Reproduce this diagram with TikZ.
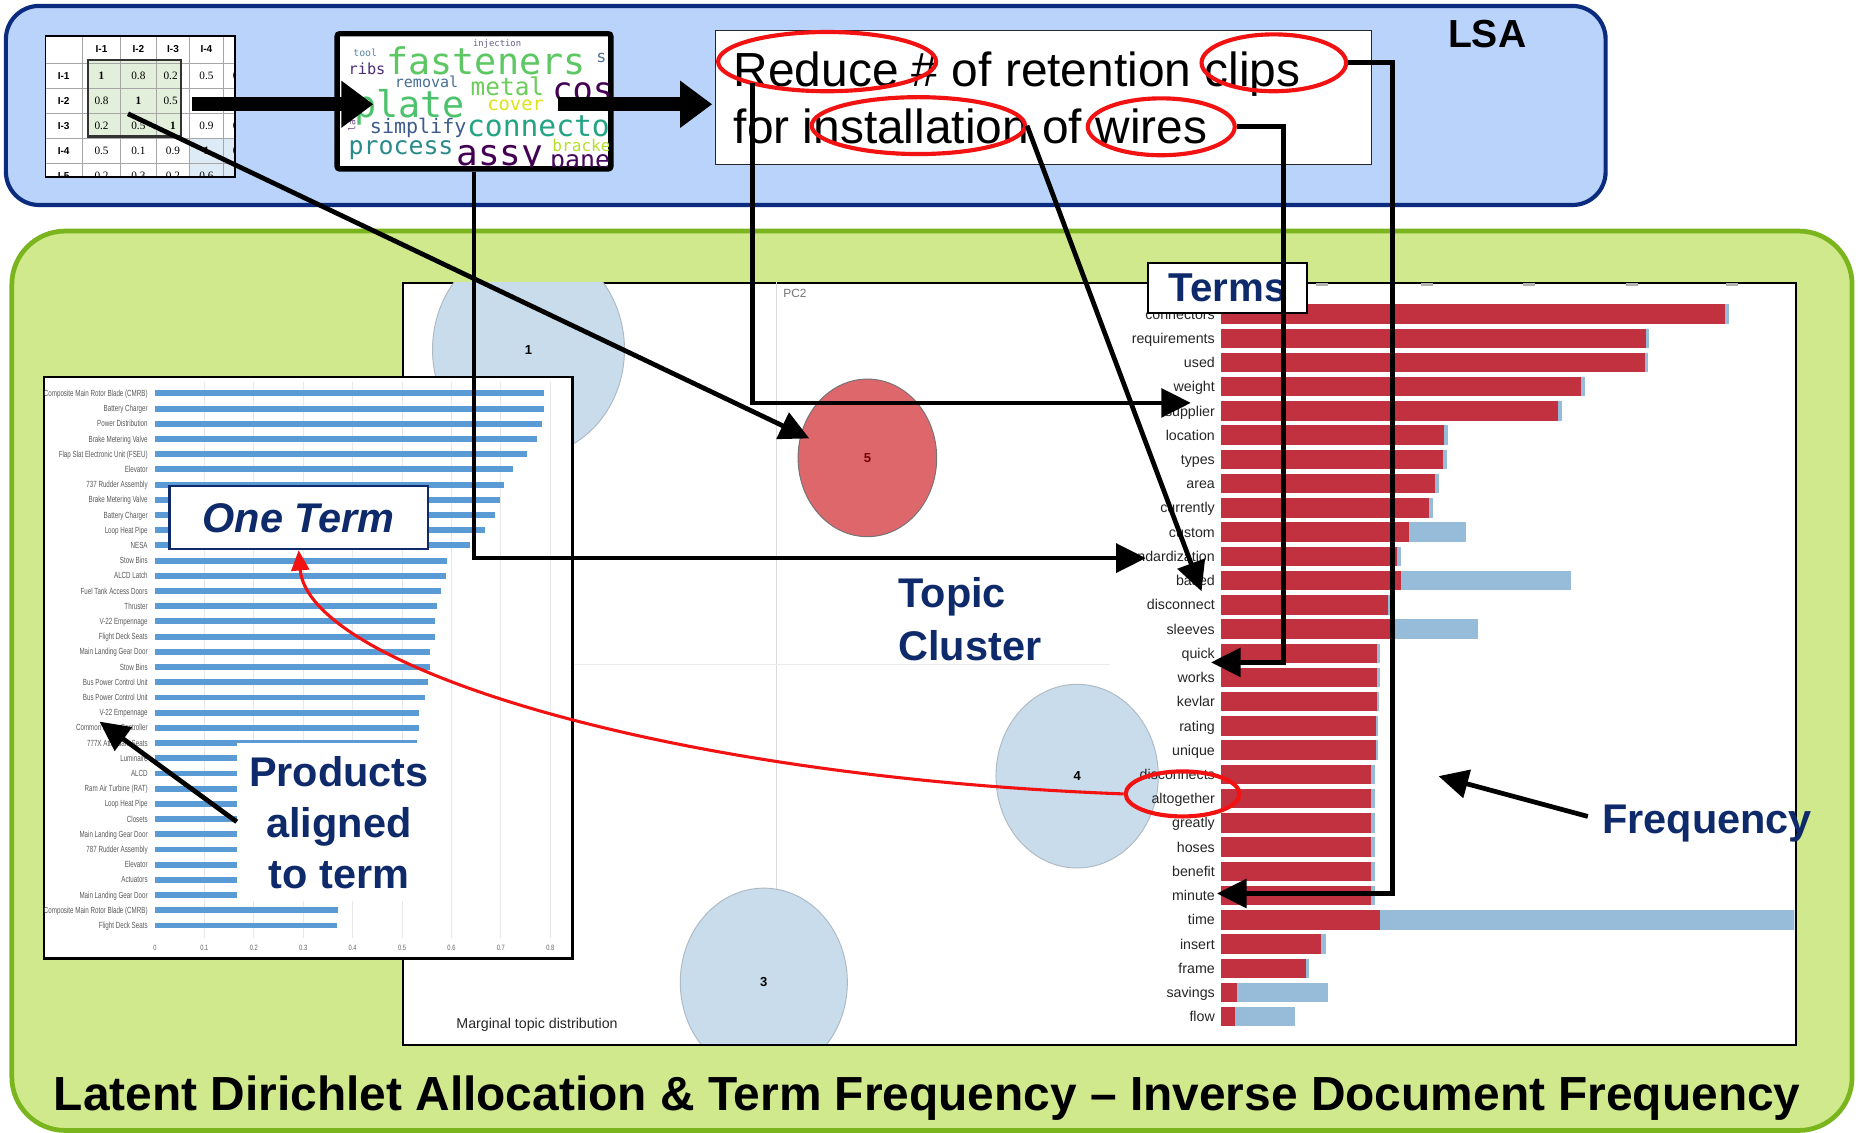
\documentclass[tikz,border=0pt]{standalone}
\usepackage{fontspec}
\usepackage{graphicx}
\setmainfont{Liberation Sans}
\newfontfamily\cloudfont{DejaVu Sans Mono}
\newfontfamily\tabfont{Liberation Serif}
\usetikzlibrary{arrows.meta,shapes.geometric}
\newcommand\fsz[1]{\fontsize{#1}{#1}\selectfont}
\newcommand\narrowtext[2]{\scalebox{#1}[1]{#2}}

\definecolor{lsafill}{HTML}{B9D3FB}
\definecolor{lsaline}{HTML}{0B2C7E}
\definecolor{ldafill}{HTML}{D0E98C}
\definecolor{ldaline}{HTML}{7AB51D}
\definecolor{navy}{HTML}{0E2A6B}
\definecolor{barred}{HTML}{C1313F}
\definecolor{barblue}{HTML}{96BCDA}
\definecolor{prodblue}{HTML}{5B9BD5}
\definecolor{topicblue}{HTML}{C8DCEB}
\definecolor{topicedge}{HTML}{AEB9C4}
\definecolor{topicred}{HTML}{DE676C}
\definecolor{ringred}{HTML}{F21212}
\definecolor{matgreen}{HTML}{E2EFDA}
\definecolor{matblue}{HTML}{DDEBF7}
% word cloud palette
\definecolor{cTool}{HTML}{5B84A8}
\definecolor{cInj}{HTML}{66628C}
\definecolor{cFast}{HTML}{5DC863}
\definecolor{cS}{HTML}{4F7396}
\definecolor{cRibs}{HTML}{4B2C7A}
\definecolor{cRem}{HTML}{456F96}
\definecolor{cMetal}{HTML}{6CCE5A}
\definecolor{cDark}{HTML}{440154}
\definecolor{cPlate}{HTML}{4CC26C}
\definecolor{cCover}{HTML}{DDE318}
\definecolor{cSimp}{HTML}{3D5C8E}
\definecolor{cConn}{HTML}{23A483}
\definecolor{cProc}{HTML}{2A8B8A}
\definecolor{cBrack}{HTML}{B5DE2B}
\definecolor{cPane}{HTML}{46085C}
\definecolor{cLa}{HTML}{7E5A90}

\begin{document}
\begin{tikzpicture}[x=1pt,y=-1pt,
  conn/.style={line width=4pt,-{Triangle[length=25pt,width=24pt]}},
  bigarrow/.style={line width=12pt,-{Triangle[length=27pt,width=38pt]}},
  redarrow/.style={draw=ringred,line width=2.6pt,-{Triangle[length=17pt,width=15pt]}},
  ring/.style={ellipse,draw=ringred,line width=3.5pt,inner sep=0},
  callout/.style={font=\bfseries\fsz{35},text=navy,inner sep=0},
  topic/.style={ellipse,draw=topicedge,line width=0.8pt,fill=topicblue,inner sep=0,font=\bfseries\fsz{11}},
  barlab/.style={font=\fsz{12},text=black!85,inner sep=0,anchor=base east},
  prodlab/.style={font=\fsz{7.5},text=black!65,inner sep=0,anchor=base east},
  word/.style 2 args={font=\cloudfont\fsz{#1},text=#2,inner sep=0,anchor=base west},
  cell/.style={inner sep=0,font=\tabfont\fsz{9.5}},
  cellhead/.style={inner sep=0,font=\bfseries\fsz{8.5}},
]
\useasboundingbox (0,0) rectangle (1568,956);
\fill[white] (0,0) rectangle (1568,956);

% ---------- the two panels ----------
\node[draw=lsaline,fill=lsafill,line width=3.5pt,rounded corners=28pt,
      minimum width=1350,minimum height=168,inner sep=0] (lsa) at (680,89) {};
\node[draw=ldaline,fill=ldafill,line width=4pt,rounded corners=45pt,
      minimum width=1553,minimum height=759,inner sep=0] (lda) at (786.5,574.5) {};
\node[font=\bfseries\fsz{33},inner sep=0] (lsaLabel) at (1255,29) {LSA};

% ---------- similarity matrix ----------
\begin{scope}
  \clip (37.7,29.5) rectangle (197.6,148.5);
  \fill[white] (37.7,29.5) rectangle (197.6,148.5);
  \fill[matgreen] (74,50.6) rectangle (152.6,115.3);
  \fill[matblue] (160.1,116.7) rectangle (197.6,148.5);
  \foreach \cx in {69.7,101.7,131.9,160.1,188.3}
    \draw[gray!70,line width=0.7pt] (\cx,29.5) -- (\cx,160);
  \foreach \ry in {53.4,74.5,95.6,116.7,137.8}
    \draw[gray!70,line width=0.7pt] (37.7,\ry) -- (197.6,\ry);
  \foreach \h/\cx in {I-1/85.7,I-2/116.8,I-3/146,I-4/174.2}
    \node[cellhead] at (\cx,41.5) {\h};
  \foreach \h/\ry in {I-1/64,I-2/85,I-3/106.2,I-4/127.3,I-5/148.4}
    \node[cellhead] at (53.7,\ry) {\h};
  % row I-1
  \node[cell,font=\tabfont\bfseries\fsz{9.5}] at (85.7,64) {1};
  \node[cell] at (116.8,64) {0.8};
  \node[cell] at (144,64) {0.2};
  \node[cell] at (174.2,64) {0.5};
  \node[cell] at (202.4,64) {0.1};
  % row I-2
  \node[cell] at (85.7,85) {0.8};
  \node[cell,font=\tabfont\bfseries\fsz{9.5}] at (116.8,85) {1};
  \node[cell] at (144,85) {0.5};
  \node[cell] at (202.4,85) {0.3};
  % row I-3
  \node[cell] at (85.7,106.2) {0.2};
  \node[cell] at (116.8,106.2) {0.5};
  \node[cell,font=\tabfont\bfseries\fsz{9.5}] at (146,106.2) {1};
  \node[cell] at (174.2,106.2) {0.9};
  \node[cell] at (202.4,106.2) {0.2};
  % row I-4
  \node[cell] at (85.7,127.3) {0.5};
  \node[cell] at (116.8,127.3) {0.1};
  \node[cell] at (146,127.3) {0.9};
  \node[cell,font=\tabfont\bfseries\fsz{9.5}] at (174.2,127.3) {1};
  \node[cell] at (202.4,127.3) {0.6};
  % row I-5 (cut by the frame)
  \node[cell] at (85.7,148.4) {0.2};
  \node[cell] at (116.8,148.4) {0.3};
  \node[cell] at (146,148.4) {0.2};
  \node[cell] at (174.2,148.4) {0.6};
\end{scope}
\draw[black!80,line width=2pt] (74,50.6) rectangle (152.6,115.3);
\node[draw,line width=1.5pt,minimum width=159.9,minimum height=119,inner sep=0,
      anchor=north west] (mat) at (37.7,29.5) {};

% ---------- word cloud ----------
\node[draw,line width=4.5pt,rounded corners=2pt,fill=white,
      minimum width=231,minimum height=114,inner sep=0] (cloud) at (400,85.5) {};
\begin{scope}
  \clip (286.5,30.8) rectangle (513.5,140.2);
  \node[word={8.3}{cTool}] (wTool) at (298,48) {tool};
  \node[word={7.5}{cInj}] (wInj) at (399,39.5) {injection};
  \node[word={31}{cFast}] (wFast) at (326,63) {fasteners};
  \node[word={14}{cS}] (wS) at (503,53) {s};
  \node[word={12.9}{cRibs}] (wRibs) at (294,63) {ribs};
  \node[word={12.7}{cRem}] (wRem) at (333,74) {removal};
  \node[word={20.6}{cMetal}] (wMetal) at (397,81) {metal};
  \node[word={28.4}{cDark}] (wCost) at (466,86) {cost};
  \node[word={31}{cPlate}] (wPlate) at (299,99.5) {plate};
  \node[word={15.9}{cCover}] (wCover) at (411,93) {cover};
  \node[word={13}{cCover}] (wB) at (507,94) {b};
  \node[word={16.9}{cSimp}] (wSimp) at (312,113) {simplify};
  \node[word={25}{cConn}] (wConn) at (394,115.4) {connectors};
  \node[word={21}{cProc}] (wProc) at (294,130) {process};
  \node[word={13.6}{cBrack}] (wBrack) at (466,128) {bracket};
  \node[word={30.4}{cDark}] (wAssy) at (385,139.5) {assy};
  \node[word={21}{cPane}] (wPane) at (464,142) {panel};
  \node[font=\cloudfont\fsz{8},text=cLa,rotate=90,inner sep=0] (wLa) at (297,106) {la};
\end{scope}

% ---------- requirement sentence ----------
\node[draw=black!85,line width=1.2pt,fill=white,minimum width=554,minimum height=113,
      inner sep=0,anchor=north west] (sent) at (603,25) {};
\node[font=\fsz{40.4},inner sep=0,anchor=base west] (sentA) at (619,73) {Reduce \# of retention clips};
\node[font=\fsz{40.4},inner sep=0,anchor=base west] (sentB) at (619,121) {for installation of wires};

% ---------- LDA / TF-IDF chart ----------
\node[draw,line width=1.6pt,fill=white,minimum width=1176,minimum height=643,inner sep=0,
      anchor=north west] (ldaChart) at (339,238) {};
\begin{scope}
  \clip (339.8,238.8) rectangle (1514.2,880.2);
  \draw[black!14,line width=1pt] (655,238) -- (655,881);
  \draw[black!8,line width=1pt] (339,561) -- (937,561);
  \node[font=\fsz{10},text=black!55,inner sep=0,anchor=base west] (pc2) at (661,251) {PC2};
  \node[topic,minimum width=162,minimum height=180] (t1) at (446,295) {1};
  \node[topic,minimum width=137,minimum height=155] (t4) at (909,655) {4};
  \node[topic,minimum width=141,minimum height=159] (t3) at (644.6,829) {3};
  \node[topic,fill=topicred,draw=black!55,text=red!45!black,
        minimum width=117,minimum height=133] (t5) at (732,386.4) {5};
  \foreach \tx in {1116,1204,1290,1377,1462}
    \fill[black!30] (\tx-5,238.5) rectangle (\tx+5,241);
  % term bars: topic-specific (red) over overall frequency (blue)
  \foreach \lab/\r/\b [count=\i from 0] in {
      connectors/1456/1459, requirements/1389/1392, used/1388/1391,
      weight/1334/1338, supplier/1315/1318, location/1219/1222,
      types/1218/1221, area/1211/1214, currently/1206/1209,
      custom/1189/1237, standardization/1179/1182, based/1182/1326,
      disconnect/1171/1173, sleeves/1174/1247, quick/1162/1165,
      works/1162/1165, kevlar/1162/1164, rating/1161/1163,
      unique/1161/1163, disconnects/1157/1160, altogether/1157/1160,
      greatly/1157/1160, hoses/1157/1160, benefit/1157/1160,
      minute/1157/1160, time/1165/1515, insert/1115/1119,
      frame/1102/1105, savings/1044/1121, flow/1042/1093} {
    \pgfmathsetmacro\yy{265+20.45*\i}
    \fill[barblue] (1030.5,\yy-8.2) rectangle (\b,\yy+8.2);
    \fill[barred] (1030.5,\yy-8.2) rectangle (\r,\yy+8.2);
    \node[barlab] at (1025.4,\yy+4.3) {\lab};
  }
\end{scope}
\node[font=\fsz{12},text=black!85,inner sep=0,anchor=base west] (marg) at (385,868) {Marginal topic distribution};

% ---------- products aligned to one term ----------
\node[draw,line width=2pt,fill=white,minimum width=446,minimum height=491,inner sep=0,
      anchor=north west] (prodChart) at (36,317) {};
\foreach \k in {1,...,8}
  \draw[black!9,line width=0.8pt] (130.8+41.7*\k,322) -- (130.8+41.7*\k,792);
\foreach \lab/\e [count=\i from 0] in {
    Composite Main Rotor Blade (CMRB)/459, Battery Charger/459,
    Power Distribution/457, Brake Metering Valve/453,
    Flap Slat Electronic Unit (FSEU)/445, Elevator/433,
    737 Rudder Assembly/425, Brake Metering Valve/422,
    Battery Charger/418, Loop Heat Pipe/409, NESA/397,
    Stow Bins/377, ALCD Latch/376, Fuel Tank Access Doors/372,
    Thruster/369, V-22 Empennage/367, Flight Deck Seats/367,
    Main Landing Gear Door/363, Stow Bins/363,
    Bus Power Control Unit/361, Bus Power Control Unit/359,
    V-22 Empennage/354, Common Motor Controller/354,
    777X Attendant Seats/352, Luminaire/350, ALCD/350,
    Ram Air Turbine (RAT)/349, Loop Heat Pipe/348, Closets/347,
    Main Landing Gear Door/346, 787 Rudder Assembly/345,
    Elevator/344, Actuators/343, Main Landing Gear Door/342,
    Composite Main Rotor Blade (CMRB)/285, Flight Deck Seats/284} {
  \pgfmathsetmacro\yy{332+12.83*\i}
  \fill[prodblue] (130.8,\yy-2.5) rectangle (\e,\yy+2.5);
  \node[prodlab] at (124.8,\yy+2.6) {\narrowtext{0.7}{\lab}};
}
\foreach \t [count=\k from 0] in {0,0.1,0.2,0.3,0.4,0.5,0.6,0.7,0.8}
  \node[font=\fsz{6.5},text=black!60,inner sep=0] at (130.8+41.7*\k,800) {\narrowtext{0.75}{\t}};

\node[fill=white,minimum width=172,minimum height=133,inner sep=0] (prodBox) at (286,693.5) {};
\node[callout,anchor=base] (prodA) at (286,664) {Products};
\node[callout,anchor=base] (prodB) at (286,707) {aligned};
\node[callout,anchor=base] (prodC) at (286,749.5) {to term};

\node[draw=navy,line width=1.8pt,fill=white,minimum width=218,minimum height=53,inner sep=0,
      font=\bfseries\itshape\fsz{35},text=navy] (oneTerm) at (252,437) {One Term};

\node[draw,line width=1.5pt,fill=white,minimum width=134,minimum height=42,inner sep=0,
      font=\bfseries\fsz{34},text=navy] (terms) at (1036,243) {Terms};

\node[callout,anchor=base west] (topicA) at (758,513) {Topic};
\node[callout,anchor=base west] (topicB) at (758,557) {Cluster};
\node[callout,anchor=base west] (freqLab) at (1352,703) {Frequency};

% ---------- highlighted words ----------
\node[ring,minimum width=184,minimum height=50] (eReduce) at (698,52) {};
\node[ring,minimum width=122,minimum height=48] (eClips) at (1075,53) {};
\node[ring,minimum width=180,minimum height=48] (eInst) at (775,106) {};
\node[ring,minimum width=124,minimum height=48] (eWires) at (980,107) {};
\node[ring,minimum width=96,minimum height=38] (eAlt) at (998,670) {};

% ---------- connectors ----------
\coordinate (a1s) at (162,88);   \coordinate (a1e) at (315,88);
\coordinate (a2s) at (471,88);   \coordinate (a2e) at (601,88);
\coordinate (matSrc) at (108,96); \coordinate (t5Tip) at (683,370);
\coordinate (stdTip) at (967,471);
\coordinate (rdStart) at (635,70); \coordinate (supTip) at (1005,340);
\coordinate (basedTip) at (1014,499);
\coordinate (wTurn) at (1083,107); \coordinate (quickTip) at (1022,559);
\coordinate (cTurn) at (1175,53);  \coordinate (minTip) at (1027,754);
\coordinate (freqTail) at (1340,689); \coordinate (freqTip) at (1214,655);
\coordinate (prodTip) at (84,609);

\draw[bigarrow] (a1s) -- (a1e);
\draw[bigarrow] (a2s) -- (a2e);
\draw[conn] (matSrc) -- (t5Tip);
\draw[conn] (cloud.south) |- (stdTip);
\draw[conn] (rdStart) |- (supTip);
\draw[conn] (eInst.east) -- (basedTip);
\draw[conn] (eWires.east) -- (wTurn) |- (quickTip);
\draw[conn] (eClips.east) -- (cTurn) |- (minTip);
\draw[conn] (freqTail) -- (freqTip);
\draw[conn] (prodBox.west) -- (prodTip);
\draw[redarrow] (eAlt.west) .. controls (550,655) and (260,560) .. (oneTerm.south);

% ---------- caption ----------
\node[font=\bfseries\fsz{40.4},inner sep=0,anchor=base] (title) at (782.5,937)
  {Latent Dirichlet Allocation \& Term Frequency – Inverse Document Frequency};
\end{tikzpicture}
\end{document}
